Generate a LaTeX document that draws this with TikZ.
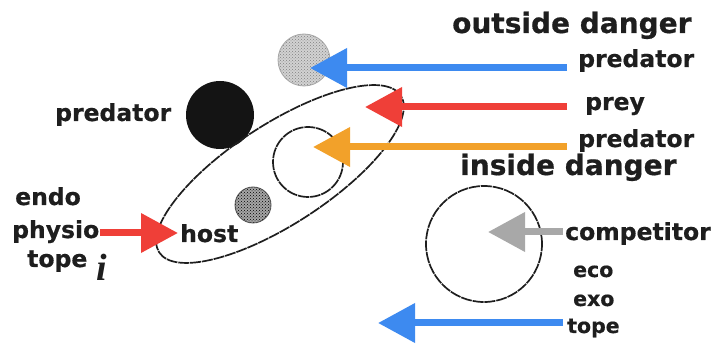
\documentclass[tikz,border=0pt]{standalone}
\usepackage{fontspec}
\setmainfont{DejaVu Sans}[BoldFeatures={FakeBold=0.6}]
\newfontfamily\serifit{Liberation Serif}
\usetikzlibrary{arrows.meta,patterns}
\definecolor{arrblue}{HTML}{3D8AF0}
\definecolor{arrred}{HTML}{EF3F38}
\definecolor{arrorange}{HTML}{F2A12A}
\definecolor{arrgray}{HTML}{A8A8A8}
\definecolor{ink}{HTML}{1E1E1E}
\begin{document}
\begin{tikzpicture}[x=1pt,y=-1pt,
  lab/.style={font=\bfseries\fontsize{23.5}{25}\selectfont, text=ink, inner sep=0pt, anchor=base west},
  small/.style={lab, font=\bfseries\fontsize{20.5}{22}\selectfont},
  head/.style={font=\bfseries\fontsize{28}{30}\selectfont, text=ink, inner sep=0pt, anchor=base west},
  fat/.style={line width=7pt, -{Triangle[length=37pt,width=38pt]}},
  ring/.style={draw=ink, line width=1.7pt, dash pattern=on 11pt off 0.9pt},
  speckle/.style={circle, inner sep=0pt, draw=#1!70, line width=0.8pt,
    preaction={fill=#1!35}, pattern=crosshatch dots, pattern color=#1},
]
\useasboundingbox (0,0) rectangle (724,347);

% bodies
\node[speckle=gray, minimum size=52pt] (outer) at (304,60) {};
\node[circle, fill=black!92, minimum size=68pt, inner sep=0pt] (bigpred) at (220,115) {};
\draw[ring] (280,174) ellipse [x radius=144pt, y radius=50pt, rotate=33];
\node[circle, ring, minimum size=70pt, inner sep=0pt] (inner) at (308,162) {};
\node[speckle=black, minimum size=36pt] (parasite) at (253,205) {};
\node[circle, ring, minimum size=116pt, inner sep=0pt] (eco) at (484,244) {};

% labels
\node[head] (outside) at (452,33) {outside danger};
\node[lab] (predA) at (578,67) {predator};
\node[lab] (prey) at (585,110) {prey};
\node[lab] (predB) at (578,147) {predator};
\node[head] (inside) at (460,175) {inside danger};
\node[lab] (predL) at (55,121) {predator};
\node[lab] (host) at (180,242) {host};
\node[lab] (endo) at (15,205) {endo};
\node[lab] (physio) at (12,238) {physio};
\node[lab] (topeL) at (27,267) {tope};
\node[inner sep=0pt, anchor=base west, text=ink,
  font=\serifit\bfseries\itshape\fontsize{38}{40}\selectfont] (ivar) at (96,281) {i};
\node[lab] (comp) at (565,240) {competitor};
\node[small] (ecoL) at (573,277) {eco};
\node[small] (exoL) at (573,306) {exo};
\node[small] (topeR) at (567,333) {tope};

% arrow ends
\coordinate (tA) at (567,68);   \coordinate (hA) at (310,68);
\coordinate (tB) at (567,107);  \coordinate (hB) at (365,107);
\coordinate (tC) at (567,147);  \coordinate (hC) at (313,147);
\coordinate (tD) at (563,232);  \coordinate (hD) at (488,232);
\coordinate (tE) at (563,323);  \coordinate (hE) at (378,323);
\coordinate (tF) at (100,233);  \coordinate (hF) at (178,233);

% arrows
\draw[fat, arrblue] (tA) -- (hA);
\draw[fat, arrred] (tB) -- (hB);
\draw[fat, arrorange] (tC) -- (hC);
\draw[fat, arrgray] (tD) -- (hD);
\draw[fat, arrblue] (tE) -- (hE);
\draw[fat, arrred] (tF) -- (hF);
\end{tikzpicture}
\end{document}
